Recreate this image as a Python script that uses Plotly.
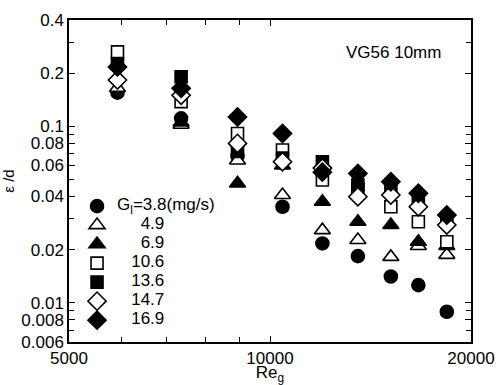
import plotly.graph_objects as go

re_g = [5910, 7360, 8940, 10440, 11980, 13540, 15170, 16680, 18400]

labels = ["3.8", "4.9", "6.9", "10.6", "13.6", "14.7", "16.9"]

eps_38 = [0.155, 0.111, 0.068, 0.035, 0.0217, 0.0184, 0.0141, 0.0126, 0.0089]
eps_49 = [0.165, 0.102, 0.064, 0.0408, 0.0258, 0.0227, 0.0182, 0.021, 0.0187]
eps_69 = [0.19, 0.105, 0.0475, 0.06, 0.0374, 0.0288, 0.0276, 0.0222, 0.021]
eps_106 = [0.264, 0.138, 0.091, 0.0734, 0.0496, 0.044, 0.035, 0.0288, 0.0222]
eps_136 = [0.227, 0.191, 0.072, 0.066, 0.063, 0.0465, 0.045, 0.039, 0.030]
eps_147 = [0.183, 0.15, 0.080, 0.063, 0.058, 0.0399, 0.0408, 0.035, 0.0276]
eps_169 = [0.217, 0.164, 0.113, 0.091, 0.055, 0.054, 0.0485, 0.0417, 0.0314]

series = [eps_38, eps_49, eps_69, eps_106, eps_136, eps_147, eps_169]
symbols = ["circle", "triangle-up", "triangle-up", "square", "square", "diamond", "diamond"]
fills = ["black", "white", "black", "white", "black", "white", "black"]
sizes = [13, 14, 14, 12, 12, 14, 14]

y_ticks = [0.006, 0.008, 0.01, 0.02, 0.04, 0.06, 0.08, 0.1, 0.2, 0.4]
y_ticktext = ["0.006", "0.008", "0.01", "0.02", "0.04", "0.06", "0.08", "0.1", "0.2", "0.4"]
y_minor = [0.007, 0.009, 0.03, 0.05, 0.07, 0.09, 0.3]
x_ticks = [5000, 10000, 20000]
x_minor = [6000, 7000, 8000, 9000]

FONT = "Liberation Sans, Arial, sans-serif"

fig = go.Figure()
pad = ["", "\u00a0" * 5, "\u00a0" * 5, "\u00a0" * 3, "\u00a0" * 3, "\u00a0" * 3, "\u00a0" * 3]
for i, (ys, sym, fc, sz) in enumerate(zip(series, symbols, fills, sizes)):
    if i == 0:
        name = "G<sub>l</sub>=" + labels[i] + "(mg/s)"
    else:
        name = pad[i] + labels[i]
    fig.add_trace(go.Scatter(
        x=re_g, y=ys, mode="markers", name='<span style="font-size:17px">' + name + "</span>",
        marker=dict(symbol=sym, size=sz, color=fc, line=dict(color="black", width=1.6)),
    ))

fig.update_layout(
    width=496, height=385,
    margin=dict(l=69, r=25, t=20, b=43),
    paper_bgcolor="white", plot_bgcolor="white",
    font=dict(family=FONT, size=17, color="black"),
    showlegend=True,
    legend=dict(x=0.02, y=0.467, xanchor="left", yanchor="top",
                font=dict(size=11, family=FONT), bgcolor="rgba(0,0,0,0)",
                itemwidth=30, tracegroupgap=0),
    annotations=[dict(text="VG56 10mm", xref="paper", yref="paper", x=0.93, y=0.9,
                      xanchor="right", yanchor="middle", showarrow=False,
                      font=dict(size=17, family=FONT))],
)
fig.update_xaxes(
    type="log", range=[3.69897, 4.30103], automargin=False,
    tickvals=x_ticks, ticktext=["5000", "10000", "20000"],
    ticks="inside", ticklen=6, tickwidth=1.2, tickcolor="black",
    minor=dict(tickvals=x_minor, ticks="inside", ticklen=5, tickcolor="black", showgrid=False),
    showline=True, linecolor="black", linewidth=1.5, mirror="ticks",
    showgrid=False, zeroline=False,
    title=dict(text="Re<sub>g</sub>", standoff=9, font=dict(size=17)),
    tickfont=dict(size=17),
)
fig.update_yaxes(
    type="log", range=[-2.22185, -0.39794], automargin=False,
    tickvals=y_ticks, ticktext=y_ticktext,
    ticks="inside", ticklen=6, tickwidth=1.2, tickcolor="black",
    minor=dict(tickvals=y_minor, ticks="inside", ticklen=5, tickcolor="black", showgrid=False),
    showline=True, linecolor="black", linewidth=1.5, mirror="ticks",
    showgrid=False, zeroline=False,
    title=dict(text="\u03b5 /d", standoff=3, font=dict(size=15)),
    tickfont=dict(size=17),
)

fig.write_html("out.html")
